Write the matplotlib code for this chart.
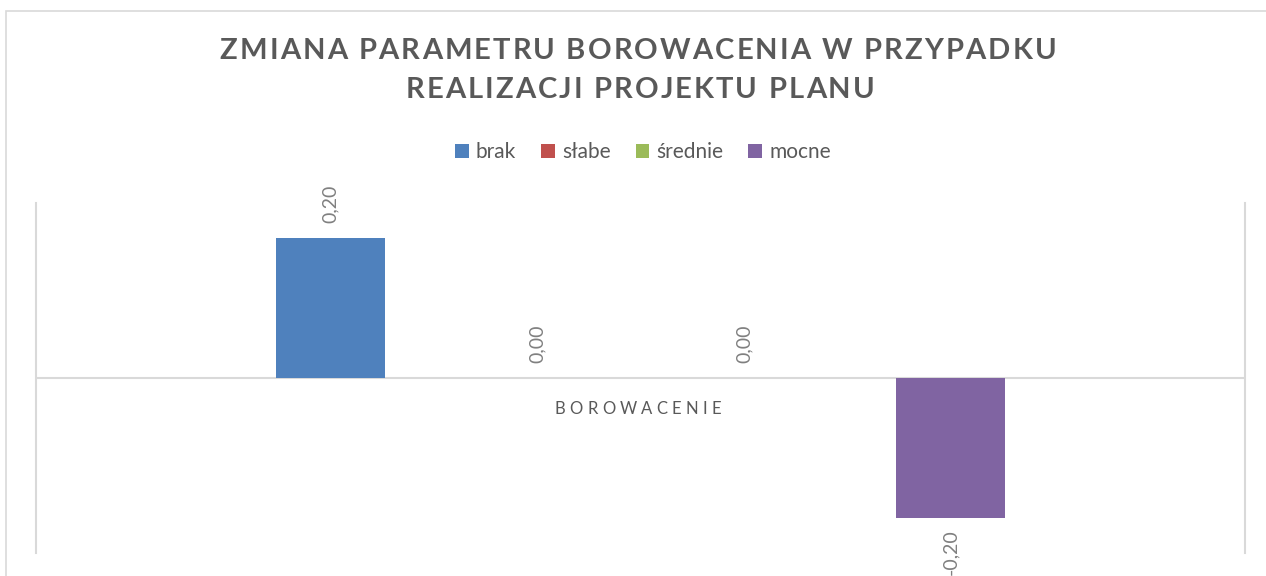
import matplotlib.pyplot as plt
from matplotlib.patches import Patch, Rectangle

# dane
categories = ["BOROWACENIE"]
series = ["brak", "słabe", "średnie", "mocne"]
values = [0.20, 0.00, 0.00, -0.20]
colors = ["#4F81BD", "#C0504D", "#9BBB59", "#8064A2"]
title_lines = ["ZMIANA PARAMETRU BOROWACENIA W PRZYPADKU", "REALIZACJI PROJEKTU PLANU"]

W, H = 1266, 576
fig = plt.figure(figsize=(W / 100, H / 100), dpi=100)
fig.patch.set_facecolor("white")
renderer = fig.canvas.get_renderer()


def text_width(s, **kw):
    t = fig.text(0, 0, s, **kw)
    w = t.get_window_extent(renderer).width
    t.remove()
    return w


def spaced_text(s, xc, y, spacing, **kw):
    # tekst z rozstrzelonymi literami (jak w Excelu)
    bar = text_width("|", **kw)
    total = text_width(s, **kw) + spacing * (len(s) - 1)
    x0 = xc - total / 2
    for i, ch in enumerate(s):
        off = text_width(s[:i] + "|", **kw) - bar if i > 0 else 0
        fig.text((x0 + off + i * spacing) / W, 1 - y / H, ch, ha="left", va="center", **kw)


# ramka wykresu
fig.add_artist(Rectangle((5.5 / W, -0.1), 2, (1 - 10.5 / H) + 0.1, transform=fig.transFigure,
                         fill=False, edgecolor="#D9D9D9", linewidth=1.2))

# tytul
title_kw = dict(fontsize=21, fontweight="bold", color="#595959", family="Lato")
spaced_text(title_lines[0], 638, 51, 2.1, **title_kw)
spaced_text(title_lines[1], 640, 90, 2.1, **title_kw)

# legenda
handles = [Patch(facecolor=c, edgecolor="none") for c in colors]
fig.legend(handles, series, loc="center", bbox_to_anchor=(643 / W, 1 - 152 / H), ncol=4,
           frameon=False, handlelength=0.65, handleheight=0.65, handletextpad=0.35, columnspacing=1.2,
           prop=dict(family="Lato", size=15), labelcolor="#595959")

# obszar wykresu
ax = fig.add_axes([36 / W, 1 - 553 / H, (1245 - 36) / W, (553 - 203) / H])
step = 0.171
width = 0.09
for i, (name, v, c) in enumerate(zip(series, values, colors)):
    x = (i - 1.5) * step
    ax.bar(x, v, width=width, color=c, label=name)
    if v >= 0:
        ax.annotate(f"{v:.2f}".replace(".", ","), (x, v), xytext=(0, 11), textcoords="offset points",
                    rotation=90, ha="center", va="bottom", fontsize=14, color="#808080", family="Lato")
    else:
        ax.annotate(f"{v:.2f}".replace(".", ","), (x, v), xytext=(0, -8), textcoords="offset points",
                    rotation=90, ha="center", va="top", fontsize=14, color="#808080", family="Lato",
                    annotation_clip=False)

ax.set_xlim(-0.5, 0.5)
ax.set_ylim(-0.25, 0.25)
ax.axhline(0, color="#D9D9D9", linewidth=1.5, zorder=0)
for side in ["top", "bottom"]:
    ax.spines[side].set_visible(False)
for side in ["left", "right"]:
    ax.spines[side].set_color("#D9D9D9")
    ax.spines[side].set_linewidth(1.5)
ax.set_xticks([])
ax.set_yticks([])

# etykieta kategorii
spaced_text(categories[0], 638, 409, 4.3, fontsize=12, color="#595959", family="Lato")

fig.savefig("out.png", dpi=100, facecolor="white")
